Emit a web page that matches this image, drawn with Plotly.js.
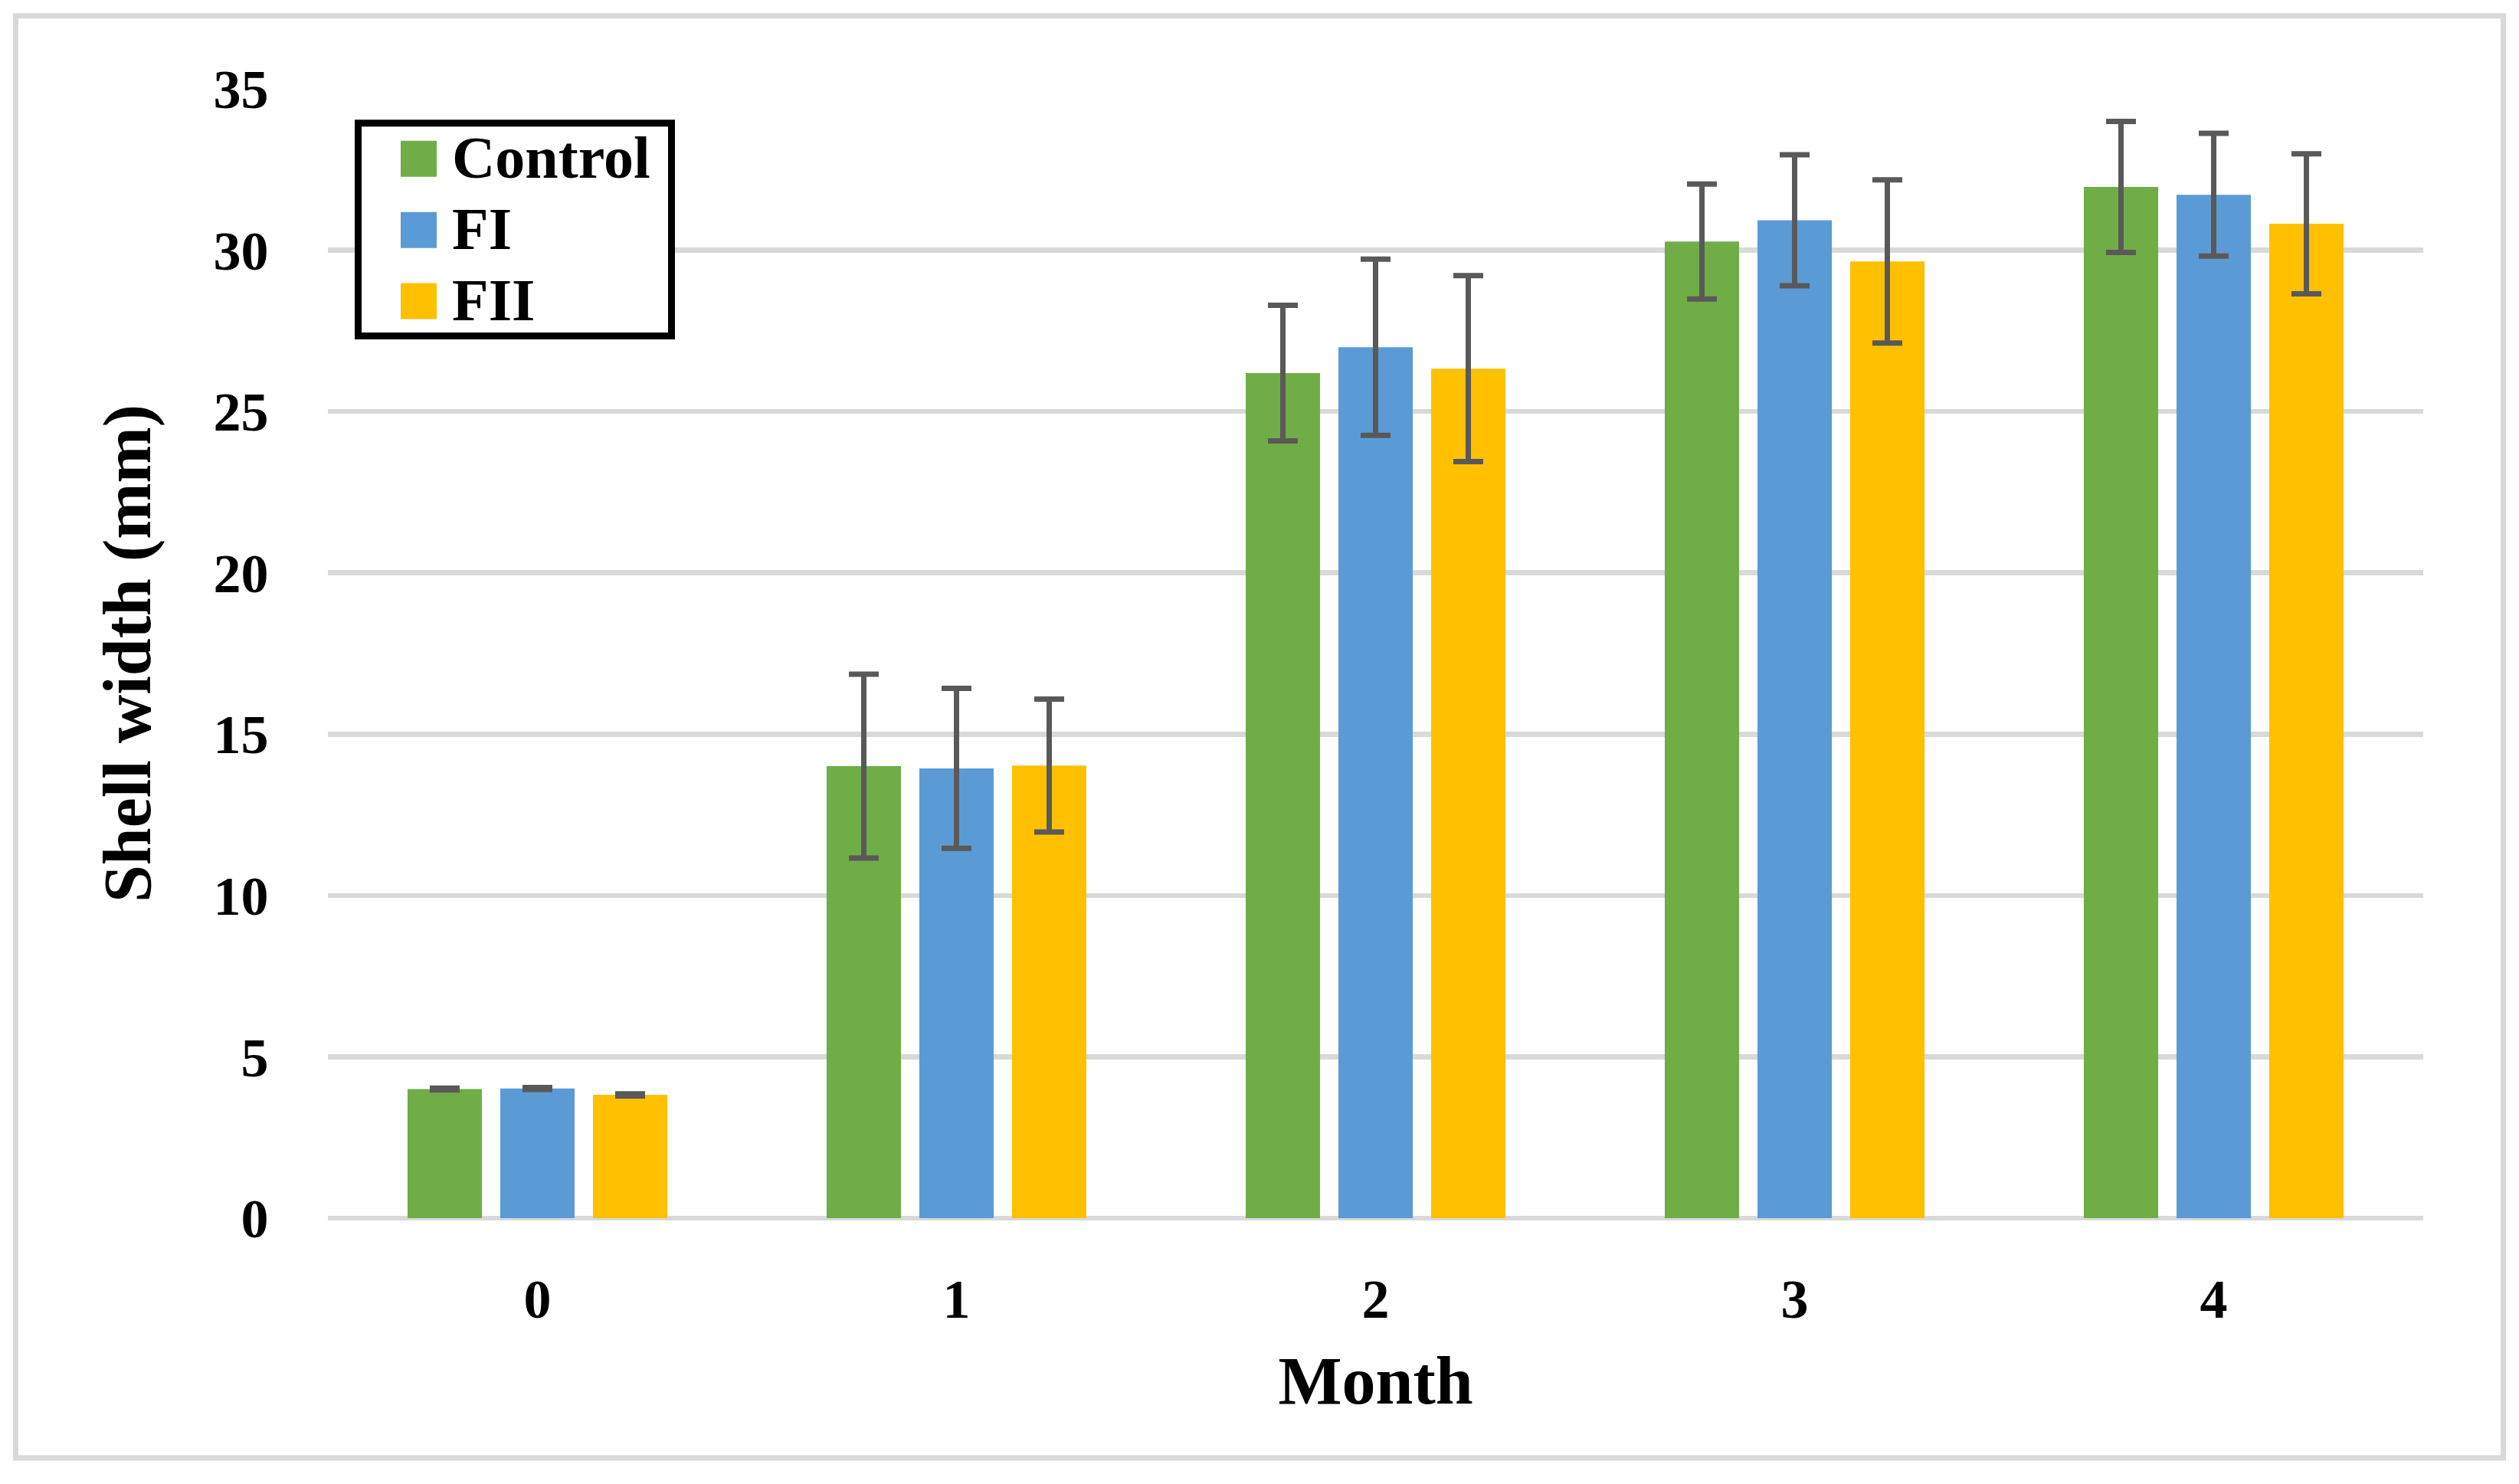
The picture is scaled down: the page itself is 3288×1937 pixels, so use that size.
<!DOCTYPE html>
<html>
<head>
<meta charset="utf-8">
<script src="https://cdn.plot.ly/plotly-3.0.1.min.js"></script>
<style>
html,body{margin:0;padding:0;background:#fff;}
#chart{width:3288px;height:1937px;}
</style>
</head>
<body>
<div id="chart"></div>
<script>
// ---- data ----
const months = ['0', '1', '2', '3', '4'];
const seriesNames = ['Control', 'FI', 'FII'];
const controlMean = [4.00, 14.01, 26.19, 30.27, 31.96];
const controlErr  = [0.03, 2.85, 2.10, 1.78, 2.03];
const fiMean      = [4.02, 13.94, 26.99, 30.93, 31.72];
const fiErr       = [0.03, 2.48, 2.73, 2.03, 1.90];
const fiiMean     = [3.82, 14.03, 26.33, 29.65, 30.82];
const fiiErr      = [0.03, 2.06, 2.88, 2.53, 2.17];
const yTicks = [0, 5, 10, 15, 20, 25, 30, 35];
const xTitle = 'Month';
const yTitle = 'Shell width (mm)';

// ---- style ----
const colors = ['#70AD47', '#5B9BD5', '#FFC000'];
const FONT = 'Liberation Serif, Times New Roman, serif';
const W = 3288, H = 1937;
const PL = 428, PR = 3163, PT = 115.8, PB = 1590.3;
const px2x = p => (p - PL) / (PR - PL);
const px2y = p => (PB - p) / (PB - PT);

const means = [controlMean, fiMean, fiiMean];
const errs = [controlErr, fiErr, fiiErr];

const traces = seriesNames.map((name, i) => ({
  type: 'bar',
  name: name,
  x: months,
  y: means[i],
  marker: {color: colors[i], line: {width: 0}},
  error_y: {type: 'data', array: errs[i], visible: true, color: '#595959', thickness: 7, width: 19.5},
  showlegend: false,
  hoverinfo: 'x+y+name'
}));

// custom legend (box, swatches, labels)
const shapes = [
  // outer chart frame
  {type: 'rect', xref: 'paper', yref: 'paper', layer: 'below',
   x0: px2x(20.5), x1: px2x(3267.5), y0: px2y(20.5), y1: px2y(1903.5),
   line: {color: '#D9D9D9', width: 7}, fillcolor: 'rgba(0,0,0,0)'},
  // legend box
  {type: 'rect', xref: 'paper', yref: 'paper',
   x0: px2x(467.5), x1: px2x(876.5), y0: px2y(160.5), y1: px2y(438.5),
   line: {color: '#000000', width: 9}, fillcolor: '#FFFFFF'}
];
const annotations = [];
const rowCenters = [207, 300, 393];
seriesNames.forEach((name, i) => {
  shapes.push({type: 'rect', xref: 'paper', yref: 'paper',
    x0: px2x(523), x1: px2x(570), y0: px2y(rowCenters[i] - 23.5), y1: px2y(rowCenters[i] + 23.5),
    line: {width: 0}, fillcolor: colors[i]});
  annotations.push({xref: 'paper', yref: 'paper', x: px2x(588), y: px2y(rowCenters[i] - 2),
    xanchor: 'left', yanchor: 'middle', showarrow: false, text: name,
    font: {family: FONT, size: 78, color: '#000', weight: 'bold'}});
});

const layout = {
  width: W, height: H,
  margin: {l: PL, r: W - PR, t: PT, b: H - PB, pad: 0},
  paper_bgcolor: '#FFFFFF', plot_bgcolor: '#FFFFFF',
  showlegend: false,
  barmode: 'group',
  bargap: 0.3364,
  bargroupgap: 0.198,
  font: {family: FONT, color: '#000'},
  xaxis: {
    type: 'category', automargin: false,
    showgrid: false, showline: false, zeroline: false,
    ticks: 'outside', ticklen: 43, tickcolor: 'rgba(0,0,0,0)', tickwidth: 1,
    tickfont: {family: FONT, size: 72, color: '#000', weight: 'bold'},
    title: {text: xTitle, standoff: 34, font: {family: FONT, size: 88, color: '#000', weight: 'bold'}}
  },
  yaxis: {
    range: [0, 35], tickvals: yTicks, automargin: false,
    showgrid: true, gridcolor: '#D9D9D9', gridwidth: 6.7,
    zeroline: true, zerolinecolor: '#D9D9D9', zerolinewidth: 6.7,
    showline: false,
    ticks: 'outside', ticklen: 62, tickcolor: 'rgba(0,0,0,0)', tickwidth: 1,
    tickfont: {family: FONT, size: 72, color: '#000', weight: 'bold'},
    title: {text: yTitle, standoff: 52, font: {family: FONT, size: 88, color: '#000', weight: 'bold'}}
  },
  shapes: shapes,
  annotations: annotations
};

Plotly.newPlot('chart', traces, layout, {staticPlot: true, displayModeBar: false});
</script>
</body>
</html>
